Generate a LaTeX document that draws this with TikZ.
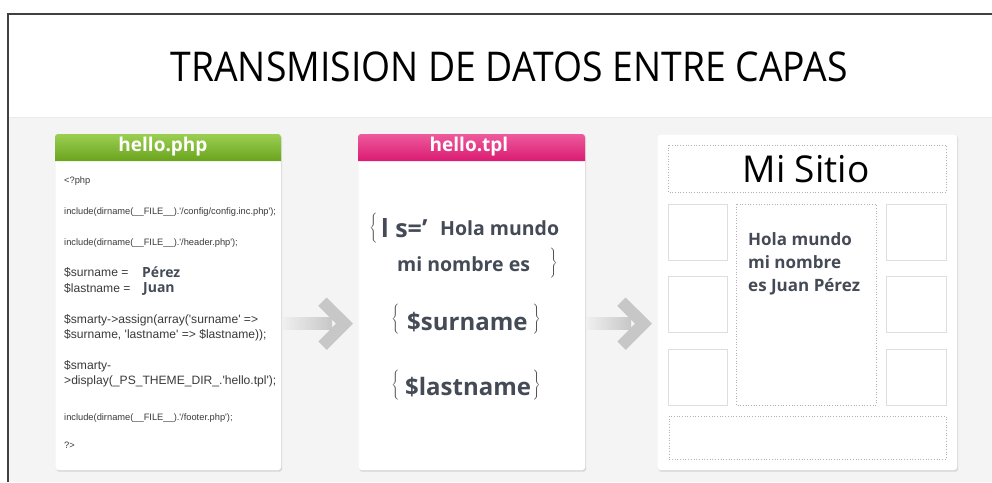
\documentclass[tikz,border=0pt]{standalone}
\usepackage{fontspec}
\setmainfont{Open Sans}
\newfontfamily\titlefont[FakeStretch=0.91]{Open Sans}
\newfontfamily\codefont{Liberation Sans}
\usetikzlibrary{calc,shadows}
\definecolor{fondo}{HTML}{F4F4F4}
\definecolor{verdeA}{HTML}{9BCF52}
\definecolor{verdeB}{HTML}{6AA31D}
\definecolor{rosaA}{HTML}{EE5A9C}
\definecolor{rosaB}{HTML}{DA1B72}
\definecolor{pizarra}{HTML}{454B56}
\definecolor{codigo}{HTML}{3A3A3A}
\tikzset{
  panel/.style={fill=white,draw=black!8,rounded corners=3pt,
    drop shadow={shadow xshift=1pt,shadow yshift=-1.5pt,fill=black!25,opacity=.6}},
  cabecera/.style={text=white,font=\bfseries\fontsize{19}{19}\selectfont,inner sep=0pt},
  chico/.style={anchor=west,inner sep=0pt,text=codigo,font=\codefont\fontsize{9.3}{9.3}\selectfont},
  grande/.style={anchor=west,inner sep=0pt,text=codigo,font=\codefont\fontsize{12.1}{12.1}\selectfont},
  plantilla/.style={anchor=base west,inner sep=0pt,text=pizarra,font=\bfseries\fontsize{#1}{#1}\selectfont},
  llave/.style={inner sep=0pt,text=black!70},
  caja/.style={draw=black!13,line width=.8pt},
  punteada/.style={draw=black!30,dotted,line width=.7pt}
}
\newcommand*{\llaveA}{$\left\{\vrule height 14pt depth 14pt width 0pt\right.$}
\newcommand*{\llaveC}{$\left.\vrule height 14pt depth 14pt width 0pt\right\}$}

\begin{document}
\begin{tikzpicture}[x=1pt,y=-1pt]
\useasboundingbox (0,0) rectangle (992,482);
% Frame and background
\fill[white] (0,0) rectangle (992,482);
\fill[fondo] (8,117) rectangle (992,482);
\draw[black!8] (8,117) -- (992,117);
\draw[black!75,line width=1.2pt] (8,482) -- (8,14) -- (992,14);

\node[font=\titlefont\fontsize{41}{41}\selectfont] (titulo) at (509,67) {TRANSMISION DE DATOS ENTRE CAPAS};

% Panels
\node[panel,minimum width=226,minimum height=336,anchor=north west] (php) at (55,134) {};
\node[panel,minimum width=227,minimum height=336,anchor=north west] (tpl) at (358,134) {};
\node[panel,minimum width=300,minimum height=336,anchor=north west] (sitio) at (657,134) {};

% Headers
\shade[top color=verdeA,bottom color=verdeB] (55,161) [rounded corners=3pt] -- (55,134) -- (281,134) [sharp corners] -- (281,161) -- cycle;
\shade[top color=rosaA,bottom color=rosaB] (358,161) [rounded corners=3pt] -- (358,134) -- (585,134) [sharp corners] -- (585,161) -- cycle;
\node[cabecera] (phpT) at (163,147) {hello.php};
\node[cabecera] (tplT) at (469,147) {hello.tpl};

% hello.php
\node[chico] (c1) at (64,180.7) {<?php};
\node[chico] (c2) at (64,211.7) {include(dirname(\_\_FILE\_\_).'/config/config.inc.php');};
\node[chico] (c3) at (64,243.3) {include(dirname(\_\_FILE\_\_).'/header.php');};
\node[grande] (c4) at (64,272.7) {\$surname =};
\node[grande] (c5) at (64,288.7) {\$lastname =};
\node[plantilla=14,anchor=west] (ape) at (142,272.7) {Pérez};
\node[plantilla=14,anchor=west] (nom) at (143,288.7) {Juan};
\node[grande] (c6) at (64,320.7) {\$smarty->assign(array('surname' =>};
\node[grande] (c7) at (64,335.5) {\$surname, 'lastname' => \$lastname));};
\node[grande] (c8) at (64,366.7) {\$smarty-};
\node[grande] (c9) at (64,381.7) {>display(\_PS\_THEME\_DIR\_.'hello.tpl');};
\node[chico] (c10) at (64,418.3) {include(dirname(\_\_FILE\_\_).'/footer.php');};
\node[chico] (c11) at (64,445.7) {?>};

% hello.tpl
\node[llave] (b1) at (374,228.5) {\llaveA};
\node[plantilla=25] (t1) at (381,237) {l s='};
\node[plantilla=19.5] (t2) at (440,235) {Hola mundo};
\node[plantilla=19.5] (t3) at (397,271.7) {mi nombre es};
\node[llave] (b2) at (553,264) {\llaveC};
\node[llave] (b3) at (396,320) {\llaveA};
\node[plantilla=24] (t4) at (407,330) {\$surname};
\node[llave] (b4) at (536,320) {\llaveC};
\node[llave] (b5) at (396,385.5) {\llaveA};
\node[plantilla=24] (t5) at (405,395) {\$lastname};
\node[llave] (b6) at (536,385.5) {\llaveC};

% Mi Sitio
\draw[punteada] (668,145) rectangle (946,192);
\node[font=\fontsize{37}{37}\selectfont] (cab) at (806,169) {Mi Sitio};
\foreach \y in {204,276,349}{
  \draw[caja] (668,\y) rectangle (727,\y+56);
  \draw[caja] (886,\y) rectangle (946,\y+56);
}
\draw[punteada] (736,204) rectangle (876,405);
\draw[punteada] (669,416) rectangle (946,459);
\node[plantilla=17] (h1) at (748,245) {Hola mundo};
\node[plantilla=17] (h2) at (748,268.3) {mi nombre};
\node[plantilla=17] (h3) at (748,291.7) {es Juan Pérez};

% Arrows between panels
\foreach \a/\b in {php/tpl,tpl/sitio}{
  \coordinate (ini) at ($(\a.east)+(1,21.5)$);
  \coordinate (tip) at ($(\b.west)+(-5,21.5)$);
  \shade[left color=black!6,right color=black!22] ($(ini)+(0,-6)$) rectangle ($(tip)+(-21,6)$);
  \fill[black!22,shift={(tip)}] (-34.7,-17.8) -- (-26.3,-26.2) -- (0,0) -- (-26.3,26.2) -- (-34.7,17.8) -- (-17,0) -- cycle;
}
\end{tikzpicture}
\end{document}
